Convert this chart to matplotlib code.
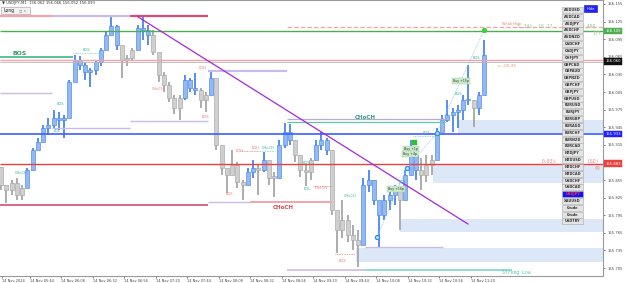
import numpy as np
import matplotlib.pyplot as plt
from matplotlib.patches import Rectangle

plt.rcParams['font.family'] = ['DejaVu Sans']

# USDJPY M1, grouped to 4 minute bars
# x axis = minutes after 05:20
bar_min = 4
hi = [155.877, 155.847, 155.855, 155.859, 155.847, 155.876, 155.910, 155.927, 155.949, 155.961,
      155.974, 155.971, 155.966, 156.025, 156.068, 156.066, 156.056, 156.046, 156.060, 156.080,
      156.107, 156.135, 156.119, 156.077, 156.068, 156.080, 156.119, 156.133, 156.119, 156.111,
      156.060, 156.039, 156.022, 156.000, 156.000, 156.034, 156.029, 156.037, 156.012, 156.005,
      156.039, 156.000, 155.906, 155.872, 155.906, 155.886, 155.855, 155.876, 155.889, 155.881,
      155.903, 155.881, 155.869, 155.923, 155.952, 155.951, 155.923, 155.898, 155.881, 155.893,
      155.923, 155.937, 155.927, 155.906, 155.796, 155.821, 155.796, 155.778, 155.770, 155.859,
      155.872, 155.855, 155.813, 155.830, 155.842, 155.847, 155.830, 155.872, 155.923, 155.910,
      155.893, 155.898, 155.898, 155.944, 155.966, 155.991, 155.978, 155.983, 156.000, 156.051,
      155.991, 156.005, 156.094]
lo = [155.838, 155.816, 155.830, 155.821, 155.821, 155.847, 155.872, 155.906, 155.923, 155.932,
      155.944, 155.940, 155.927, 155.961, 156.029, 156.043, 156.025, 156.014, 156.034, 156.049,
      156.077, 156.107, 156.077, 156.029, 156.049, 156.060, 156.077, 156.094, 156.085, 156.068,
      156.022, 156.005, 155.988, 155.968, 155.957, 155.991, 156.005, 156.000, 155.978, 155.971,
      156.000, 155.906, 155.864, 155.833, 155.869, 155.842, 155.821, 155.847, 155.859, 155.830,
      155.869, 155.847, 155.826, 155.869, 155.910, 155.915, 155.886, 155.860, 155.845, 155.855,
      155.893, 155.906, 155.898, 155.796, 155.731, 155.756, 155.749, 155.736, 155.707, 155.778,
      155.835, 155.813, 155.741, 155.787, 155.804, 155.813, 155.770, 155.821, 155.872, 155.855,
      155.838, 155.852, 155.864, 155.889, 155.937, 155.954, 155.937, 155.944, 155.957, 155.983,
      155.946, 155.966, 156.000]
cl = [155.847, 155.838, 155.850, 155.830, 155.842, 155.872, 155.906, 155.920, 155.944, 155.949,
      155.961, 155.957, 155.961, 156.022, 156.060, 156.051, 156.039, 156.043, 156.056, 156.077,
      156.102, 156.118, 156.085, 156.060, 156.063, 156.077, 156.114, 156.111, 156.102, 156.073,
      156.034, 156.017, 155.995, 155.978, 155.995, 156.025, 156.012, 156.008, 155.991, 156.000,
      156.029, 155.915, 155.876, 155.864, 155.881, 155.852, 155.847, 155.869, 155.876, 155.872,
      155.889, 155.859, 155.859, 155.915, 155.937, 155.923, 155.898, 155.872, 155.869, 155.889,
      155.915, 155.923, 155.906, 155.804, 155.770, 155.787, 155.761, 155.753, 155.744, 155.847,
      155.855, 155.821, 155.796, 155.821, 155.830, 155.838, 155.821, 155.864, 155.898, 155.872,
      155.864, 155.881, 155.889, 155.937, 155.957, 155.966, 155.971, 155.974, 155.991, 155.991,
      155.978, 156.000, 156.068]
# trend colouring of the candles: u = blue, d = grey
trend_runs = [('d', 5), ('u', 18), ('d', 3), ('u', 3), ('d', 6), ('u', 3), ('d', 2), ('u', 1),
              ('d', 6), ('u', 2), ('d', 1), ('u', 1), ('d', 2), ('u', 3), ('d', 4), ('u', 3),
              ('d', 6), ('u', 7), ('d', 1), ('u', 3), ('d', 3), ('u', 7), ('d', 1), ('u', 2)]

xtick_pos = [2.7, 24, 48, 72, 96, 120, 144, 168, 192, 216, 240, 264, 288, 312, 336, 360]
xtick_lab = ["14 Nov 2024", "14 Nov 05:44", "14 Nov 06:08", "14 Nov 06:32", "14 Nov 06:56",
             "14 Nov 07:20", "14 Nov 07:44", "14 Nov 08:08", "14 Nov 08:32", "14 Nov 08:56",
             "14 Nov 09:20", "14 Nov 09:44", "14 Nov 10:08", "14 Nov 10:32", "14 Nov 10:56",
             "14 Nov 11:20"]
ytick_pos = [155.705, 155.735, 155.765, 155.795, 155.825, 155.855, 155.885, 155.915,
             155.945, 155.975, 156.005, 156.035, 156.065, 156.095, 156.125, 156.155]
ytick_hidden = [155.885]   # covered by the red price tag

PINK, LAV, CRIM = '#f4a3a8', '#cbbbe9', '#d94c73'
GREEN, BLUE, RED = '#4cae4f', '#3d5cff', '#e8423f'
TEAL_T, RED_T = '#38b59c', '#f07a7a'

# (price, from, to, colour, width, style)
levels = [
    (156.135, 1.1, 40.8, PINK, 1.6, '-'),
    (156.135, 40.8, 100.2, LAV, 1.6, '-'),
    (156.135, 100.2, 159.6, CRIM, 1.6, '-'),
    (156.109, 1.1, 460.6, GREEN, 1.0, '-'),
    (156.060, 1.1, 460.6, PINK, 1.0, '-'),
    (156.056, 1.1, 460.6, '#b8b8b8', 0.6, '-'),
    (156.064, 1.1, 56.8, '#3cb88a', 1.2, '-'),
    (156.003, 1.1, 40.8, LAV, 1.0, '-'),
    (155.944, 40.8, 100.2, LAV, 1.0, '-'),
    (155.933, 1.1, 460.6, BLUE, 1.2, '-'),
    (155.883, 1.1, 460.6, RED, 1.0, '-'),
    (155.813, 1.1, 159.6, CRIM, 1.2, '-'),
    (155.956, 100.2, 159.6, LAV, 1.0, '-'),
    (156.040, 159.6, 219.8, LAV, 1.6, '-'),
    (155.818, 159.6, 191.6, LAV, 1.0, '-'),
    (155.818, 191.6, 254.1, PINK, 1.4, '-'),
    (155.959, 219.8, 340.2, '#b9a9d9', 0.9, '-'),
    (155.954, 219.8, 340.2, '#62c7a5', 0.9, '-'),
    (155.741, 279.2, 338.7, LAV, 1.0, '-'),
    (155.702, 219.8, 279.2, LAV, 1.2, '-'),
    (155.702, 279.2, 391.2, '#7fd6c2', 1.2, '-'),
    (156.116, 219.8, 460.6, PINK, 0.9, '--'),
]
dotted = [
    (156.071, 56.8, 77.3, '#7fd1b9'),
    (155.904, 184.0, 198.0, RED_T),
    (155.904, 198.0, 210.7, '#7fd1b9'),
    (155.845, 239.6, 254.8, RED_T),
    (155.729, 256.4, 271.6, RED_T),
    (155.850, 304.0, 312.0, '#7fd1b9'),
    (155.930, 316.0, 333.0, '#7fd1b9'),
]
# demand zones: start, low, high
zone_t0 = [350.1, 331.0, 305.9, 272.4]
zone_lo = [155.935, 155.850, 155.766, 155.715]
zone_hi = [155.957, 155.882, 155.789, 155.739]

trend_t = [106.3, 357.7]
trend_p = [156.133, 155.780]

trade_t = [288.4, 311.2, 334.1, 369.9]
trade_p = [155.758, 155.876, 155.935, 156.111]

# (time, price, text, colour, size, bold)
labels = [
    (16.4, 156.071, "BOS", '#2e9e5e', 4.4, True),
    (66.7, 156.077, "BOS", TEAL_T, 2.6, False),
    (46.9, 155.985, "BOS", TEAL_T, 2.6, False),
    (44.6, 155.939, "EQL", TEAL_T, 2.6, False),
    (17.1, 155.867, "CHoCH", TEAL_T, 2.6, False),
    (121.5, 156.010, "CHoCH", RED_T, 2.6, False),
    (155.8, 156.046, "EQH", RED_T, 2.6, False),
    (157.3, 155.962, "BOS", RED_T, 2.6, False),
    (184.0, 155.906, "EQH", RED_T, 2.6, False),
    (175.6, 155.831, "BOS", RED_T, 2.6, False),
    (196.2, 155.910, "EQH", RED_T, 2.6, False),
    (205.3, 155.910, "CHoCH", TEAL_T, 2.6, False),
    (235.0, 155.884, "BOS", TEAL_T, 2.6, False),
    (235.0, 155.841, "EQL", TEAL_T, 2.6, False),
    (245.7, 155.841, "CHoCH", RED_T, 2.6, False),
    (267.8, 155.828, "CHoCH", TEAL_T, 2.6, False),
    (261.7, 155.717, "BOS", RED_T, 2.6, False),
    (279.2, 155.962, "CHoCH", '#2e9e7e', 4.0, True),
    (216.8, 155.809, "CHoCH", '#e04848', 4.0, True),
    (363.8, 156.063, "BOS", TEAL_T, 2.6, False),
    (350.1, 156.002, "BOS", TEAL_T, 2.6, False),
    (325.7, 155.935, "BOS", TEAL_T, 2.6, False),
    (307.4, 155.852, "BOS", TEAL_T, 2.6, False),
    (391.2, 156.121, "Weak High", RED_T, 2.6, False),
    (386.7, 156.049, "<---00:35", '#f08a6a', 3.0, False),
]
buys = [(302.9, 155.840, "Buy +16p"), (314.3, 155.908, "Buy +1p"),
        (313.5, 155.899, "Buy +4p"), (352.4, 156.024, "Buy +15p")]

# (time, price, text, colour) left aligned info text
infos = [
    (395.8, 156.116, "2.34%  18.27", '#8fcf8f'),
    (444.6, 156.116, "2.49R", '#8fcf8f'),
    (452.2, 156.104, "177", '#8fcf8f'),
    (414.1, 155.887, "0.93%", '#f08a8a'),
    (449.1, 155.887, "USD)", '#f08a8a'),
    (454.5, 155.875, "49", '#f08a8a'),
    (383.6, 155.698, "Strong Low", '#4cc7b0'),
]
# price tags on the scale: price, text, colour
tags = [(156.109, "156.109", GREEN), (156.057, "156.060", '#111111'),
        (155.933, "155.933", '#2020ff'), (155.883, "155.883", RED)]

buttons = ["AUDUSD", "AUDCAD", "AUDJPY", "AUDCHF", "AUDNZD", "CADCHF", "CADJPY", "CHFJPY",
           "GBPCAD", "GBPAUD", "GBPNZD", "GBPCHF", "GBPJPY", "GBPUSD", "EURUSD", "EURJPY",
           "EURGBP", "EURAUD", "EURCHF", "EURNZD", "EURCAD", "NZDJPY", "NZDUSD", "NZDCHF",
           "NZDCAD", "USDCHF", "USDCAD", "USDJPY", "XAUUSD", "Crude", "Crude", "USDTRY"]
active = "USDJPY"

fig = plt.figure(figsize=(6.25, 2.83), dpi=100)
fig.patch.set_facecolor('white')
ax = fig.add_axes([0, 7 / 283, 603 / 625, 276 / 283])
ax.set_xlim(1.14, 460.6)
ax.set_ylim(155.6914, 156.1618)

# zones
for t0, zl, zh in zip(zone_t0, zone_lo, zone_hi):
    ax.add_patch(Rectangle((t0, zl), 460.6 - t0, zh - zl, facecolor='#dce8f8',
                           edgecolor='none', zorder=0))

# candles
trend = ''.join(c * n for c, n in trend_runs)
t = np.arange(len(hi)) * bar_min + bar_min / 2
op = [hi[0]] + cl[:-1]
face = ['#93b9f5' if c == 'u' else '#cfcfcf' for c in trend]
edge = ['#4a86ea' if c == 'u' else '#a6a6a6' for c in trend]
ax.vlines(t, lo, hi, colors=edge, lw=1.3, zorder=2)
bot = np.minimum(op, cl)
hgt = np.maximum(np.abs(np.array(cl) - np.array(op)), 0.002)
ax.bar(t, hgt, bottom=bot, width=3.0, color=face, edgecolor=edge, lw=0.45, zorder=3)

# levels
for p, t0, t1, c, w, s in levels:
    ax.hlines(p, t0, t1, colors=c, lw=w, linestyles=s, zorder=4)
for p, t0, t1, c in dotted:
    ax.hlines(p, t0, t1, colors=c, lw=0.6, linestyles=(0, (1, 1)), zorder=4)

ax.plot(trend_t, trend_p, color='#a528e0', lw=0.9, zorder=4)
ax.plot(trade_t, trade_p, color='#8ec5f5', lw=0.6, ls=(0, (1, 1)), zorder=5)
ax.scatter(trade_t[:3], trade_p[:3], s=9, facecolor='#bfe0ff', edgecolor='#2f8fe8',
           lw=0.9, zorder=6)
ax.scatter(trade_t[3:], trade_p[3:], s=8, color='#3ad13a', zorder=6)
ax.scatter([316.6], [155.920], s=9, marker='s', color='#2ec02e', zorder=6)

for tt, p, s, c, fs, b in labels:
    ax.text(tt, p, s, color=c, fontsize=fs, fontweight='bold' if b else 'normal',
            ha='center', va='center', zorder=7)
for tt, p, s in buys:
    ax.text(tt, p, s, color='#333333', fontsize=2.3, ha='center', va='center', zorder=7,
            bbox=dict(boxstyle='square,pad=0.25', fc='#cdeccd', ec='#9cc89c', lw=0.3))
for tt, p, s, c in infos:
    ax.text(tt, p, s, color=c, fontsize=3.4, family='DejaVu Sans Mono',
            ha='left', va='center', zorder=7)

# axes look
ax.spines['left'].set_visible(False)
for side in ['top', 'right', 'bottom']:
    ax.spines[side].set_color('#9a9a9a')
    ax.spines[side].set_linewidth(0.8)
ax.yaxis.tick_right()
ax.set_yticks(ytick_pos)
ax.set_yticklabels(['' if v in ytick_hidden else f"{v:.3f}" for v in ytick_pos])
ax.tick_params(axis='y', labelsize=2.7, length=1.5, width=0.5, pad=1.5, colors='#444444')
ax.set_xticks(xtick_pos)
ax.set_xticklabels(xtick_lab)
ax.tick_params(axis='x', labelsize=2.5, length=1.5, width=0.5, pad=0.3, colors='#444444')
for lab in ax.get_xticklabels():
    lab.set_horizontalalignment('left')

for p, s, c in tags:
    ax.text(1.004, p, s, transform=ax.get_yaxis_transform(), color='white', fontsize=2.7,
            ha='left', va='center', zorder=8, clip_on=False,
            bbox=dict(boxstyle='square,pad=0.3', fc=c, ec=c, lw=0.3))

# terminal overlay in screen pixels
ui = fig.add_axes([0, 0, 1, 1])
ui.set_xlim(0, 625)
ui.set_ylim(283, 0)
ui.axis('off')
ui.text(2, 3, "\u25bc USDJPY,M1  156.062 156.066 156.052 156.093", fontsize=2.7,
        color='#333333', va='center', ha='left')
ui.add_patch(Rectangle((1, 7), 29, 7, fc='#f2f2f2', ec='#b0b0b0', lw=0.5))
ui.text(3, 10.5, "Long", fontsize=3.3, color='#222222', va='center')
ui.text(19, 10.5, "\u25a1 \u00d7", fontsize=2.5, color='#777777', va='center')
ui.add_patch(Rectangle((584, 5), 13, 7, fc='#2222ff', ec='#1010aa', lw=0.4))
ui.text(590.5, 8.5, "Hide", fontsize=2.6, color='white', ha='center', va='center')
for i, name in enumerate(buttons):
    yc = 10 + i * 6.82
    on = name == active
    ui.add_patch(Rectangle((562, yc - 3), 21, 6, fc='#1414f0' if on else '#e4e4e4',
                           ec='#a8a8a8', lw=0.4))
    ui.text(572.5, yc, name, fontsize=2.5, fontweight='bold',
            color='#ff3030' if on else '#333333', ha='center', va='center')

fig.savefig('out.png', dpi=100)
